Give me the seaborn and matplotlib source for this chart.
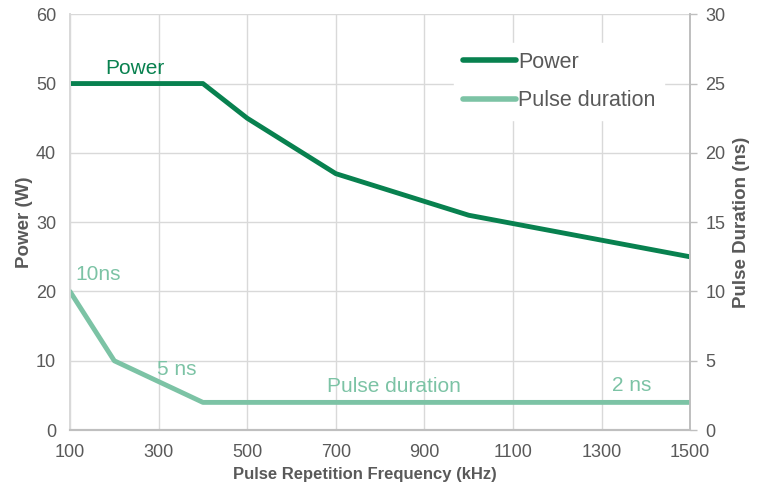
import matplotlib
matplotlib.use("Agg")
import matplotlib.pyplot as plt
import seaborn as sns
import pandas as pd

# data
power_freq = [100, 400, 500, 700, 1000, 1500]
power_w = [50, 50, 45, 37, 31, 25]
pulse_freq = [100, 200, 400, 1500]
pulse_ns = [10, 5, 2, 2]
x_ticks = [100, 300, 500, 700, 900, 1100, 1300, 1500]

dark_green = "#08814f"
light_green = "#7cc3a5"
text_gray = "#595959"
grid_gray = "#d9d9d9"

sns.set_theme(style="white")
plt.rcParams['font.family'] = ['Liberation Sans', 'DejaVu Sans']

df_power = pd.DataFrame({"freq": power_freq, "power": power_w})
df_pulse = pd.DataFrame({"freq": pulse_freq, "pulse": pulse_ns})

fig = plt.figure(figsize=(7.61, 4.91), dpi=100)
ax = fig.add_axes([0.092, 0.124, 0.815, 0.847])
ax2 = ax.twinx()

sns.lineplot(data=df_power, x="freq", y="power", ax=ax, color=dark_green,
             linewidth=3.5, label="Power", legend=False)
sns.lineplot(data=df_pulse, x="freq", y="pulse", ax=ax2, color=light_green,
             linewidth=3.5, label="Pulse duration", legend=False)

ax.set_xlim(100, 1500)
ax.set_ylim(0, 60)
ax2.set_ylim(0, 30)
ax.set_xticks(x_ticks)
ax.set_yticks(range(0, 61, 10))
ax2.set_yticks(range(0, 31, 5))
ax.grid(True, color=grid_gray, linewidth=1)
ax.set_axisbelow(True)

ax.tick_params(axis="both", colors=text_gray, labelsize=13, length=0, pad=10)
ax2.tick_params(axis="y", colors="#bfbfbf", labelcolor=text_gray, labelsize=13,
                length=5, width=1, direction="out", pad=6)

ax.set_xlabel("Pulse Repetition Frequency (kHz)", fontsize=12, fontweight="bold",
              color=text_gray)
ax.xaxis.set_label_coords(0.476, -0.088)
ax.set_ylabel("Power (W)", fontsize=13.5, fontweight="bold", color=text_gray, labelpad=2)
ax2.set_ylabel("Pulse Duration (ns)", fontsize=13.5, fontweight="bold", color=text_gray,
               labelpad=5)

for a in (ax, ax2):
    a.spines["top"].set_visible(False)
    a.spines["left"].set_color(grid_gray)
    a.spines["bottom"].set_color("#bfbfbf")
    a.spines["right"].set_color("#bfbfbf")
    a.spines["bottom"].set_linewidth(1.5)

# in-plot labels
ax.text(247, 52.2, "Power", color=dark_green, fontsize=15, ha="center", va="center")
ax.text(113, 22.4, "10ns", color=light_green, fontsize=15, ha="left", va="center")
ax.text(342, 8.7, "5 ns", color=light_green, fontsize=15, ha="center", va="center")
ax.text(832, 6.3, "Pulse duration", color=light_green, fontsize=15, ha="center", va="center")
ax.text(1367, 6.5, "2 ns", color=light_green, fontsize=15, ha="center", va="center")

h1, l1 = ax.get_legend_handles_labels()
h2, l2 = ax2.get_legend_handles_labels()
leg = fig.legend(h1 + h2, l1 + l2, loc="center left", bbox_to_anchor=(0.597, 0.834),
                 fontsize=15.5, frameon=True, framealpha=1, edgecolor="white",
                 facecolor="white", handlelength=2.45, handletextpad=0.1,
                 labelspacing=0.8, borderaxespad=0, borderpad=0.4)
for t in leg.get_texts():
    t.set_color(text_gray)
for ln in leg.get_lines():
    ln.set_linewidth(4)
    ln.set_solid_capstyle("round")

fig.savefig("out.png", dpi=100)
